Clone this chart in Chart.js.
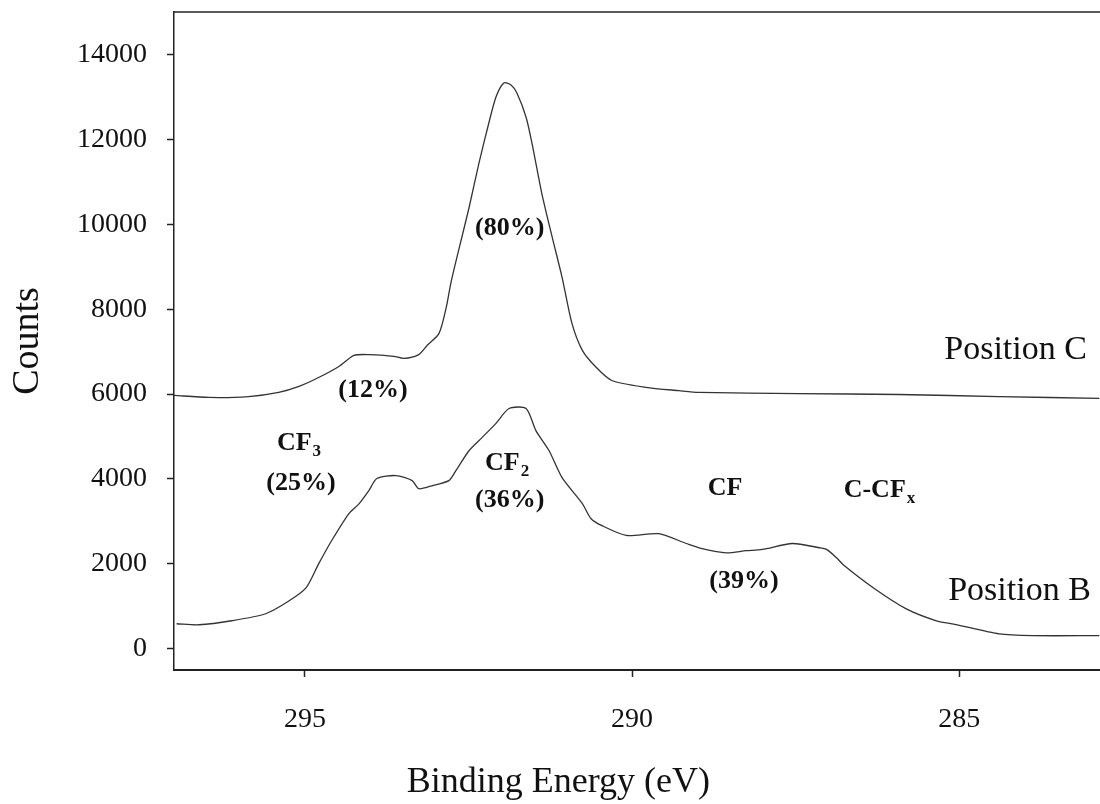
<!DOCTYPE html>
<html>
<head>
<meta charset="utf-8">
<script src="https://cdn.jsdelivr.net/npm/chart.js@4.4.1/dist/chart.umd.min.js"></script>
<style>
  html, body { margin: 0; padding: 0; background: #fff; }
  #wrap { width: 1100px; height: 804px; }
</style>
</head>
<body>
<div id="wrap"><canvas id="xpsChart"></canvas></div>
<script>
// Position C spectrum (binding energy eV, counts)
const energyC = [297.0, 296.47, 295.86, 295.40, 295.09, 294.79, 294.48, 294.25, 294.02, 293.64,
  293.49, 293.26, 293.13, 292.95, 292.84, 292.77, 292.65, 292.49, 292.34, 292.19,
  292.08, 291.96, 291.85, 291.76, 291.62, 291.53, 291.38, 291.22, 291.07, 290.92,
  290.76, 290.55, 290.31, 289.79, 289.28, 288.98, 287.45, 285.92, 284.39, 282.86];
const countsC = [5970, 5920, 5940, 6040, 6180, 6390, 6650, 6910, 6930, 6890,
  6840, 6930, 7150, 7430, 8040, 8610, 9390, 10400, 11440, 12380,
  13000, 13330, 13280, 13090, 12520, 11910, 10730, 9690, 8750, 7670,
  7030, 6630, 6320, 6160, 6080, 6040, 6010, 5990, 5940, 5900];

// Position B spectrum
const energyB = [296.96, 296.62, 296.12, 295.60, 295.24, 294.98, 294.79, 294.59, 294.33, 294.17,
  294.02, 293.90, 293.61, 293.36, 293.26, 293.06, 292.80, 292.69, 292.49, 292.29,
  292.08, 291.88, 291.62, 291.47, 291.27, 291.07, 290.76, 290.63, 290.46, 290.09,
  289.59, 289.17, 288.93, 288.56, 288.26, 288.01, 287.55, 287.14, 287.03, 286.88,
  286.76, 286.30, 285.81, 285.35, 285.05, 284.39, 283.88, 282.86];
const countsB = [590, 566, 660, 825, 1130, 1440, 2000, 2550, 3180, 3420,
  3730, 4010, 4080, 3960, 3770, 3840, 3960, 4200, 4670, 4980,
  5310, 5660, 5660, 5140, 4670, 4030, 3420, 3070, 2900, 2670,
  2710, 2480, 2360, 2260, 2310, 2340, 2480, 2380, 2340, 2150,
  1960, 1420, 940, 660, 570, 350, 310, 310];

const seriesNames = ["Position C", "Position B"];
const nameEnergy = [284.14, 284.08];
const nameCounts = [7030, 1370];

// peak labels: text, subscript, anchor (energy, counts)
const noteTexts = ["(80%)", "(12%)", "CF", "(25%)", "CF", "(36%)", "CF", "C-CF", "(39%)"];
const noteSubs = ["", "", "3", "", "2", "", "", "x", ""];
const noteEnergy = [291.87, 293.96, 295.09, 295.06, 291.91, 291.87, 288.58, 286.22, 288.29];
const noteCounts = [9900, 6100, 4830, 3890, 4360, 3490, 3770, 3730, 1600];

const xTickValues = [295, 290, 285];
const yTickValues = [0, 2000, 4000, 6000, 8000, 10000, 12000, 14000];
const xTitle = "Binding Energy (eV)";
const yTitle = "Counts";

const serif = '"Liberation Serif", "Times New Roman", serif';
const ink = "#111";

const toPoints = (xs, ys) => xs.map((v, i) => ({ x: v, y: ys[i] }));

// labels, top frame line and x title
const notesPlugin = {
  id: "xpsNotes",
  afterDraw(chart) {
    const { ctx, chartArea } = chart;
    const xs = chart.scales.x;
    const ys = chart.scales.y;
    ctx.save();
    ctx.strokeStyle = "#222";
    ctx.lineWidth = 1.5;
    ctx.beginPath();
    ctx.moveTo(chartArea.left, chartArea.top);
    ctx.lineTo(chartArea.right, chartArea.top);
    ctx.stroke();

    ctx.fillStyle = ink;
    ctx.textBaseline = "middle";
    ctx.textAlign = "left";
    noteTexts.forEach((txt, i) => {
      const px = xs.getPixelForValue(noteEnergy[i]);
      const py = ys.getPixelForValue(noteCounts[i]);
      ctx.font = "bold 26px " + serif;
      const w = ctx.measureText(txt).width;
      ctx.font = "bold 17px " + serif;
      const ws = noteSubs[i] ? ctx.measureText(noteSubs[i]).width + 1 : 0;
      const x0 = px - (w + ws) / 2;
      ctx.font = "bold 26px " + serif;
      ctx.fillText(txt, x0, py);
      if (noteSubs[i]) {
        ctx.font = "bold 17px " + serif;
        ctx.fillText(noteSubs[i], x0 + w + 1, py + 8);
      }
    });

    ctx.textAlign = "center";
    ctx.font = "34px " + serif;
    seriesNames.forEach((name, i) => {
      ctx.fillText(name, xs.getPixelForValue(nameEnergy[i]), ys.getPixelForValue(nameCounts[i]));
    });

    ctx.font = "36px " + serif;
    ctx.fillText(xTitle, chartArea.left + chartArea.width * 0.415, chart.height - 21);
    ctx.restore();
  }
};

const ctx = document.getElementById("xpsChart").getContext("2d");
new Chart(ctx, {
  type: "scatter",
  data: {
    datasets: [
      {
        label: seriesNames[0],
        data: toPoints(energyC, countsC),
        showLine: true,
        borderColor: "#333",
        borderWidth: 1.3,
        pointRadius: 0,
        tension: 0.25,
      },
      {
        label: seriesNames[1],
        data: toPoints(energyB, countsB),
        showLine: true,
        borderColor: "#333",
        borderWidth: 1.3,
        pointRadius: 0,
        tension: 0.25,
      },
    ],
  },
  options: {
    responsive: true,
    maintainAspectRatio: false,
    animation: false,
    devicePixelRatio: 1,
    layout: { padding: { top: 12, left: 0, right: 0, bottom: 0 } },
    plugins: {
      legend: { display: false },
      tooltip: { enabled: false },
    },
    scales: {
      x: {
        type: "linear",
        reverse: true,
        min: 282.85,
        max: 297.0,
        afterBuildTicks: (scale) => { scale.ticks = xTickValues.map((v) => ({ value: v })); },
        afterFit: (scale) => { scale.height = 134; scale.paddingLeft = 0; scale.paddingRight = 0; },
        ticks: {
          color: ink,
          font: { family: serif, size: 28 },
          padding: 26,
          maxRotation: 0,
          callback: (v) => String(v),
        },
        grid: { drawOnChartArea: false, drawTicks: true, tickLength: 7, tickColor: "#222", tickWidth: 1.5 },
        border: { display: true, color: "#222", width: 2 },
      },
      y: {
        min: -500,
        max: 15000,
        afterBuildTicks: (scale) => { scale.ticks = yTickValues.map((v) => ({ value: v })); },
        afterFit: (scale) => { scale.width = 174; scale.paddingTop = 0; scale.paddingBottom = 0; },
        ticks: {
          color: ink,
          font: { family: serif, size: 28 },
          padding: 20,
          callback: (v) => String(v),
        },
        title: {
          display: true,
          text: yTitle,
          color: ink,
          font: { family: serif, size: 38 },
          padding: { top: 5, bottom: 0 },
        },
        grid: { drawOnChartArea: false, drawTicks: true, tickLength: 7, tickColor: "#222", tickWidth: 1.5 },
        border: { display: true, color: "#222", width: 1.5 },
      },
    },
  },
  plugins: [notesPlugin],
});
</script>
</body>
</html>
